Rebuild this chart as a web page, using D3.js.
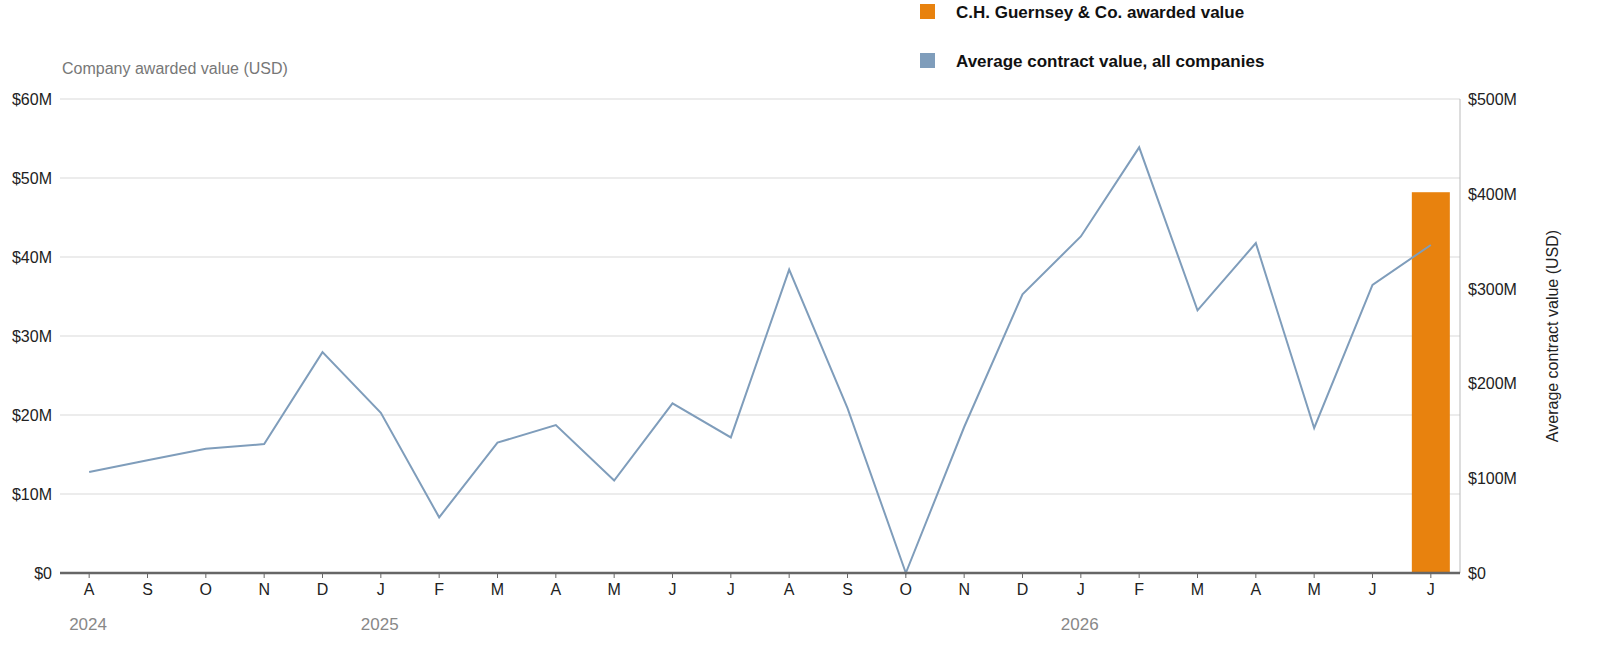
<!DOCTYPE html>
<html><head><meta charset="utf-8">
<script src="https://cdn.jsdelivr.net/npm/d3@7"></script>
<style>body{margin:0;background:#fff}svg{font-family:"Liberation Sans",Arial,sans-serif}</style>
</head><body><svg id="c" width="1606" height="656"></svg>
<script>
const months=["A","S","O","N","D","J","F","M","A","M","J","J","A","S","O","N","D","J","F","M","A","M","J","J"];
const avgValue=[106.5,119,131,136,233,169,58.7,137.5,156,97.5,179,143,320,174,0,154,294,355,449,277,348,153,304,346]; // $M
const companyValue=[0,0,0,0,0,0,0,0,0,0,0,0,0,0,0,0,0,0,0,0,0,0,0,48.2]; // $M
const leftTicks=[0,10,20,30,40,50,60];
const rightTicks=[0,100,200,300,400,500];
const years=[{label:"2024",i:0},{label:"2025",i:5},{label:"2026",i:17}];

const svg=d3.select("#c");
const L=60,R=1460,T=99,B=573;
const idx=d3.range(months.length);
const x=d3.scaleBand().domain(idx).range([L,R]);
const yl=d3.scaleLinear().domain([0,60]).range([B,T]);
const yr=d3.scaleLinear().domain([0,500]).range([B,T]);

svg.append("g").selectAll("line").data(leftTicks.slice(1)).join("line")
 .attr("x1",L).attr("x2",R).attr("y1",d=>yl(d)).attr("y2",d=>yl(d)).attr("stroke","#d9d9d9");
svg.append("g").selectAll("text").data(leftTicks).join("text")
 .attr("x",52).attr("y",d=>yl(d)+6).attr("text-anchor","end").attr("font-size",16).attr("fill","#222")
 .text(d=>"$"+d+(d?"M":""));
svg.append("g").selectAll("text").data(rightTicks).join("text")
 .attr("x",1468).attr("y",d=>yr(d)+6).attr("font-size",16).attr("fill","#222")
 .text(d=>"$"+d+(d?"M":""));
svg.append("line").attr("x1",R).attr("x2",R).attr("y1",T).attr("y2",B).attr("stroke","#bbb");
svg.append("g").selectAll("rect").data(idx.filter(i=>companyValue[i]>0)).join("rect")
 .attr("x",i=>x(i)+x.bandwidth()/2-19).attr("width",38)
 .attr("y",i=>yl(companyValue[i])).attr("height",i=>B-yl(companyValue[i])).attr("fill","#e8820e");
svg.append("path").datum(idx).attr("fill","none").attr("stroke","#7f9dbb").attr("stroke-width",2)
 .attr("d",d3.line().x(i=>x(i)+x.bandwidth()/2).y(i=>yr(avgValue[i])));
svg.append("line").attr("x1",L).attr("x2",R).attr("y1",B).attr("y2",B).attr("stroke","#666").attr("stroke-width",2.5);
const xg=svg.append("g");
xg.selectAll("line").data(idx).join("line").attr("x1",i=>x(i)+x.bandwidth()/2).attr("x2",i=>x(i)+x.bandwidth()/2)
 .attr("y1",B).attr("y2",B+5).attr("stroke","#666");
xg.selectAll("text").data(idx).join("text").attr("x",i=>x(i)+x.bandwidth()/2).attr("y",B+22)
 .attr("text-anchor","middle").attr("font-size",16).attr("fill","#222").text(i=>months[i]);
svg.append("g").selectAll("text").data(years).join("text").attr("x",d=>x(d.i)+x.bandwidth()/2-20).attr("y",630)
 .attr("font-size",17).attr("fill","#888").text(d=>d.label);
svg.append("text").attr("x",62).attr("y",74).attr("font-size",16).attr("fill","#777").text("Company awarded value (USD)");
svg.append("text").attr("transform","translate(1558,336) rotate(-90)").attr("text-anchor","middle")
 .attr("font-size",16).attr("fill","#222").text("Average contract value (USD)");
const leg=[{t:"C.H. Guernsey & Co. awarded value",c:"#e8820e",y:12},{t:"Average contract value, all companies",c:"#7f9dbb",y:61}];
const lg=svg.append("g").selectAll("g").data(leg).join("g");
lg.append("rect").attr("x",920).attr("y",d=>d.y-8).attr("width",15).attr("height",15).attr("fill",d=>d.c);
lg.append("text").attr("x",956).attr("y",d=>d.y+6).attr("font-size",17).attr("font-weight","bold")
 .attr("fill","#111").text(d=>d.t);
</script></body></html>
